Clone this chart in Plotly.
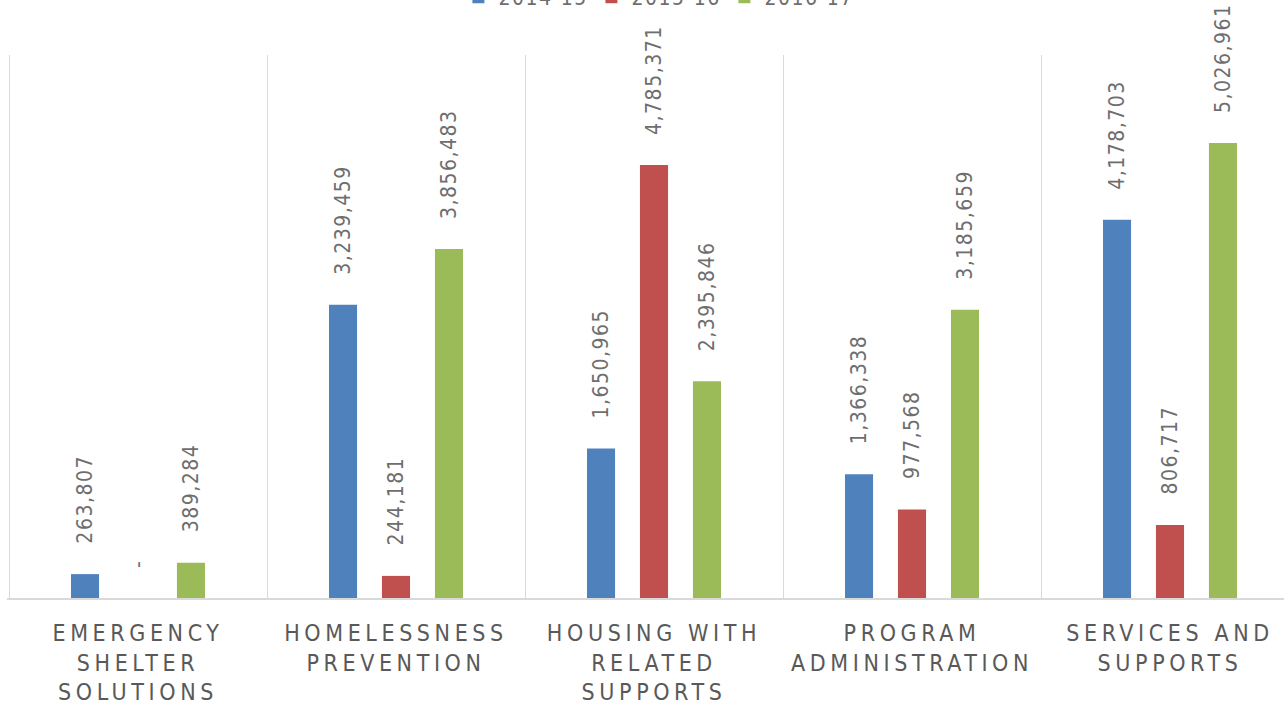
import plotly.graph_objects as go

categories = ["EMERGENCY<br>SHELTER<br>SOLUTIONS", "HOMELESSNESS<br>PREVENTION",
              "HOUSING WITH<br>RELATED<br>SUPPORTS", "PROGRAM<br>ADMINISTRATION",
              "SERVICES AND<br>SUPPORTS"]
series_names = ["2014-15", "2015-16", "2016-17"]
values_2014_15 = [263807, 3239459, 1650965, 1366338, 4178703]
values_2015_16 = [0, 244181, 4785371, 977568, 806717]
values_2016_17 = [389284, 3856483, 2395846, 3185659, 5026961]
colors = ["#4F81BD", "#C0504D", "#9BBB59"]

all_values = [values_2014_15, values_2015_16, values_2016_17]

FONT = "DejaVu Sans Condensed, Liberation Sans, Arial, sans-serif"
GREY = "#595959"
LGREY = "#6e6e6e"


def spaced(s, px):
    return f'<span style="letter-spacing:{px}px">{s}</span>'


fig = go.Figure()
for name, vals, col in zip(series_names, all_values, colors):
    fig.add_trace(go.Bar(name=spaced(name, 1.5), x=categories, y=vals,
                         marker=dict(color=col, line=dict(width=0))))

offsets = [-53, 0, 53]
annotations = []
for off, vals in zip(offsets, all_values):
    for cat, v in zip(categories, vals):
        annotations.append(dict(
            x=cat, y=v, xref="x", yref="y", text=spaced(f"{v:,}" if v else "-", 1.5),
            showarrow=False, textangle=-90, xanchor="center", yanchor="bottom",
            xshift=off, yshift=28, font=dict(family=FONT, size=21, color=LGREY),
        ))

fig.update_layout(
    width=1284, height=703,
    margin=dict(l=7, r=0, t=55, b=105, autoexpand=False),
    paper_bgcolor="white", plot_bgcolor="white",
    barmode="group", bargap=0.384, bargroupgap=0.47,
    showlegend=True,
    legend=dict(orientation="h", x=0.3535, xanchor="left", y=1.068, yanchor="bottom",
                font=dict(family=FONT, size=21, color=LGREY),
                entrywidth=88, entrywidthmode="pixels"),
    annotations=annotations,
    font=dict(family=FONT, color=GREY),
)
fig.update_xaxes(
    type="category", tickson="boundaries", showgrid=True, gridcolor="#d9d9d9", gridwidth=1,
    showline=True, linecolor="#d9d9d9", linewidth=2, ticks="",
    range=[-0.5 - 2 / 258, -0.5 + 1275 / 258],
    tickfont=dict(family=FONT, size=23, color=GREY), ticklabelstandoff=13,
)
fig.update_yaxes(range=[0, 6000000], visible=False, showgrid=False)

post = """
var s=document.createElement('style');
s.innerHTML='.xtick text{letter-spacing:4.6px;}';
document.head.appendChild(s);
"""
fig.write_html("out.html", post_script=post)
